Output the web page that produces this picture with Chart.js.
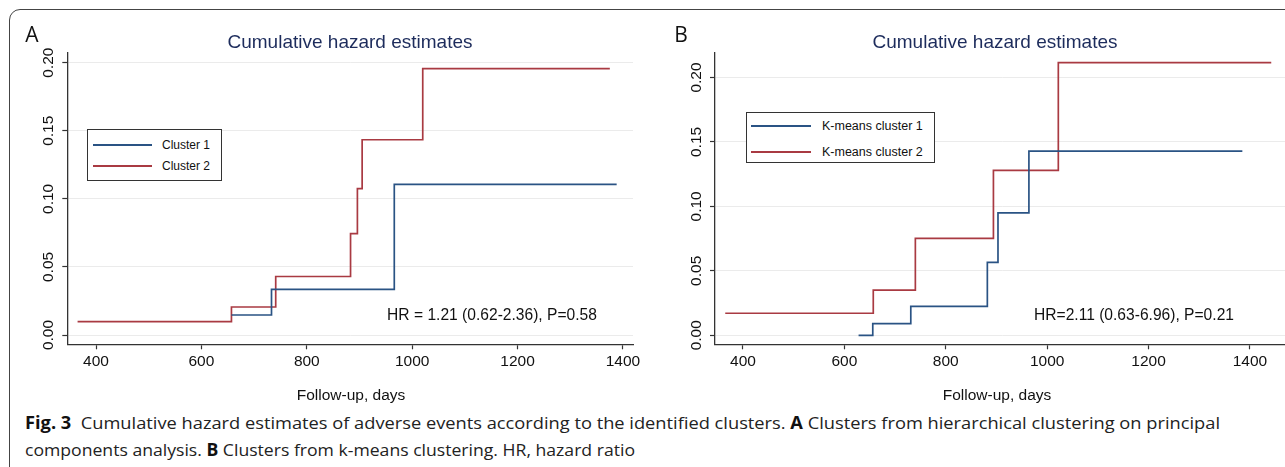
<!DOCTYPE html>
<html><head><meta charset="utf-8">
<script src="https://cdn.jsdelivr.net/npm/chart.js@4"></script>
<style>
html,body{margin:0;padding:0;background:#fff;}
body{width:1285px;height:467px;overflow:hidden;position:relative;font-family:"Liberation Sans",Arial,sans-serif;color:#111;}
.frame{position:absolute;left:9px;top:9px;width:1400px;height:600px;border:1.3px solid #444;border-radius:11px;box-sizing:border-box;}
.abs{position:absolute;white-space:nowrap;line-height:1;}
.c{transform:translate(-50%,-50%);}
canvas{position:absolute;top:0;}
.title{font-size:19px;color:#1d2c5c;}
.letter{font-family:"Open Sans","Noto Sans",sans-serif;font-size:21px;color:#111;}
.hr{font-size:15.6px;color:#111;}
.xt{font-size:15.5px;color:#111;}
.leg{position:absolute;border:1px solid #333;box-sizing:border-box;background:#fff;}
.legline{position:absolute;height:2px;}
.legtxt{position:absolute;white-space:nowrap;line-height:1;transform:translateY(-50%);color:#111;}
.cap{position:absolute;left:25px;white-space:nowrap;font-family:"Open Sans","Noto Sans",sans-serif;font-size:17px;color:#222;line-height:1;transform-origin:0 50%;}
.cap b{font-weight:700;color:#111;}
</style>
</head><body>
<div class="frame"></div>
<canvas id="ca" width="650" height="400" style="left:0;width:650px;height:400px"></canvas>
<canvas id="cb" width="650" height="400" style="left:650px;width:650px;height:400px"></canvas>

<div class="abs c letter" style="left:32px;top:34px">A</div>
<div class="abs c title" style="left:350px;top:41px">Cumulative hazard estimates</div>
<div class="abs c hr" style="left:492px;top:315px">HR = 1.21 (0.62-2.36), P=0.58</div>
<div class="abs c xt" style="left:351px;top:395px">Follow-up, days</div>

<div class="abs c letter" style="left:681px;top:34px">B</div>
<div class="abs c title" style="left:995px;top:41px">Cumulative hazard estimates</div>
<div class="abs c hr" style="left:1134px;top:315px">HR=2.11 (0.63-6.96), P=0.21</div>
<div class="abs c xt" style="left:997px;top:395px">Follow-up, days</div>

<div id="legA"></div>
<div id="legB"></div>

<div class="cap" id="cap1" style="top:414px"><b>Fig. 3</b>&nbsp; Cumulative hazard estimates of adverse events according to the identified clusters. <b>A</b> Clusters from hierarchical clustering on principal</div>
<div class="cap" id="cap2" style="top:441px">components analysis. <b>B</b> Clusters from k-means clustering. HR, hazard ratio</div>

<script>
// ---- data ----
const xTicks = [400, 600, 800, 1000, 1200, 1400];
const xTickLabels = ['400', '600', '800', '1000', '1200', '1400'];
const yTicks = [0, 0.05, 0.10, 0.15, 0.20];
const yTickLabels = ['0.00', '0.05', '0.10', '0.15', '0.20'];

const seriesNamesA = ['Cluster 1', 'Cluster 2'];
const seriesNamesB = ['K-means cluster 1', 'K-means cluster 2'];

const aCluster1Time = [657, 733, 966, 1388];
const aCluster1Hazard = [0.0147, 0.0336, 0.1107, 0.1107];
const aCluster2Time = [365, 657, 741, 883, 896, 905, 1020, 1375];
const aCluster2Hazard = [0.0098, 0.0206, 0.0430, 0.0744, 0.1075, 0.1434, 0.1956, 0.1956];

const bCluster1Time = [628, 656, 731, 882, 903, 964, 1385];
const bCluster1Hazard = [0, 0.0090, 0.0225, 0.0566, 0.0950, 0.1428, 0.1428];
const bCluster2Time = [365, 657, 740, 894, 1022, 1442];
const bCluster2Hazard = [0.0171, 0.0351, 0.0752, 0.1279, 0.2116, 0.2116];

const blue = '#2a5384';
const red = '#a93a42';

function pts(t, h) { return t.map((x, i) => ({ x: x, y: h[i] })); }

function makeChart(id, sets, g) {
  const tickFont = { family: 'Liberation Sans', size: 15.5 };
  return new Chart(document.getElementById(id), {
    type: 'line',
    data: {
      datasets: sets.map(s => ({
        label: s.label, data: pts(s.t, s.h), borderColor: s.color, backgroundColor: s.color,
        borderWidth: 1.7, stepped: 'before', pointRadius: 0, fill: false, tension: 0
      }))
    },
    options: {
      responsive: false, animation: false, maintainAspectRatio: false,
      layout: { padding: { left: 0, top: g.top, right: g.padRight, bottom: 0 } },
      plugins: { legend: { display: false }, tooltip: { enabled: false }, title: { display: false } },
      scales: {
        x: {
          type: 'linear', min: g.xmin, max: g.xmax,
          afterBuildTicks: s => { s.ticks = xTicks.map(v => ({ value: v })); },
          afterFit: s => { s.height = g.xh; },
          grid: { drawOnChartArea: false, drawTicks: true, tickLength: 5, tickColor: '#333', tickWidth: 1.2 },
          border: { display: true, color: '#333', width: 1.3 },
          ticks: { font: tickFont, color: '#111', padding: 3, minRotation: 0, maxRotation: 0,
                   callback: (v, i) => xTickLabels[i] }
        },
        y: {
          type: 'linear', min: g.ymin, max: g.ymax,
          afterBuildTicks: s => { s.ticks = yTicks.map(v => ({ value: v })); },
          afterFit: s => { s.width = g.yw; },
          grid: { color: '#ebebeb', lineWidth: 1, drawTicks: true, tickLength: 5, tickColor: '#333', tickWidth: 1.2 },
          border: { display: true, color: '#333', width: 1.3 },
          ticks: { font: tickFont, color: '#111', minRotation: 90, maxRotation: 90, crossAlign: 'center', padding: -2,
                   callback: (v, i) => yTickLabels[i] }
        }
      }
    }
  });
}

makeChart('ca', [
  { label: seriesNamesA[0], t: aCluster1Time, h: aCluster1Hazard, color: blue },
  { label: seriesNamesA[1], t: aCluster2Time, h: aCluster2Hazard, color: red }
], { xmin: 345.5, xmax: 1419, ymin: -0.0068, ymax: 0.2071, top: 53, padRight: 17, xh: 55.7, yw: 67.3 });

makeChart('cb', [
  { label: seriesNamesB[0], t: bCluster1Time, h: bCluster1Hazard, color: blue },
  { label: seriesNamesB[1], t: bCluster2Time, h: bCluster2Hazard, color: red }
], { xmin: 344.8, xmax: 1479, ymin: -0.007, ymax: 0.219, top: 53, padRight: 10, xh: 55.7, yw: 65 });

// ---- legends ----
function legend(el, box, lines, names, colors, fs) {
  const d = document.getElementById(el);
  let html = '<div class="leg" style="left:' + box[0] + 'px;top:' + box[1] + 'px;width:' + box[2] + 'px;height:' + box[3] + 'px"></div>';
  names.forEach((n, i) => {
    html += '<div class="legline" style="left:' + lines.x0 + 'px;width:' + (lines.x1 - lines.x0) + 'px;top:' + (lines.ys[i] - 1) + 'px;background-color:' + colors[i] + '"></div>';
    html += '<div class="legtxt" style="left:' + lines.tx + 'px;top:' + lines.ys[i] + 'px;font-size:' + fs + 'px">' + n + '</div>';
  });
  d.innerHTML = html;
}
legend('legA', [87, 129, 135, 52], { x0: 93, x1: 152, tx: 162, ys: [145, 166] }, seriesNamesA, [blue, red], 12);
legend('legB', [746, 112, 189, 51], { x0: 751, x1: 811, tx: 822, ys: [126, 152] }, seriesNamesB, [blue, red], 12.5);

// ---- caption fitting ----
function fit(id, target) {
  const el = document.getElementById(id);
  el.style.transform = 'none';
  const w = el.getBoundingClientRect().width;
  el.style.transform = 'scaleX(' + (target / w) + ')';
}
fit('cap1', 1195);
fit('cap2', 610);
</script>
</body></html>
